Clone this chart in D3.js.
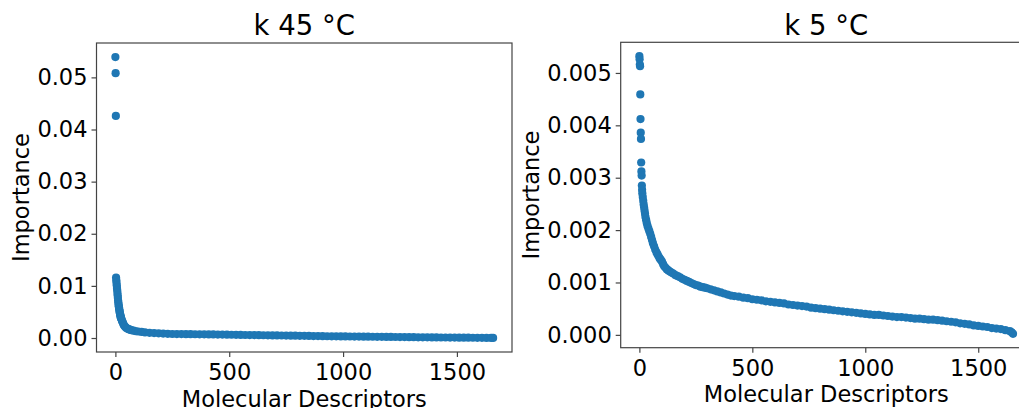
<!DOCTYPE html>
<html>
<head>
<meta charset="utf-8">
<script src="https://cdn.jsdelivr.net/npm/d3@7"></script>
<style>
  html, body { margin: 0; padding: 0; background: #fff; }
  svg { display: block; font-family: "DejaVu Sans", sans-serif; }
</style>
</head>
<body>
<svg id="chart" width="1019" height="408"></svg>
<script>
// Sorted descriptor importances (index in ranking, importance value)
const titles = ["k 45 \u00B0C", "k 5 \u00B0C"];
const xLabel = "Molecular Descriptors";
const yLabel = "Importance";
const xTicks = [0, 500, 1000, 1500];
const yTicks45 = [0.00, 0.01, 0.02, 0.03, 0.04, 0.05];
const yTicks5 = [0.000, 0.001, 0.002, 0.003, 0.004, 0.005];

const rank45 = [
  0, 1, 2, 3, 4, 5, 6, 7, 8, 9, 10, 11, 12, 13, 14, 15, 16, 17, 18, 19, 20, 21, 22, 23, 24, 25,
  27, 29, 31, 34, 37, 40, 44, 48, 53, 58, 64, 70, 80, 90, 100, 115, 130, 150, 170, 190, 210, 230,
  250, 270, 290, 310, 330, 350, 370, 390, 410, 430, 450, 470, 490, 510, 530, 550, 570, 590,
  610, 630, 650, 670, 690, 710, 730, 750, 770, 790, 810, 830, 850, 870, 890, 910, 930, 950, 970, 990,
  1010, 1030, 1050, 1070, 1090, 1110, 1130, 1150, 1170, 1190, 1210, 1230, 1250, 1270, 1290,
  1310, 1330, 1350, 1370, 1390, 1410, 1430, 1450, 1470, 1490, 1510, 1530, 1550, 1570, 1590,
  1610, 1630, 1650, 1659
];
const importance45 = [
  0.0539, 0.0508, 0.0426, 0.0116, 0.0111, 0.0106, 0.0101, 0.0096, 0.0092, 0.0087, 0.0082, 0.0077,
  0.0072, 0.0068, 0.0064, 0.0061, 0.0058, 0.0055, 0.0052, 0.0050, 0.0047, 0.0045, 0.0043, 0.0041,
  0.0039, 0.0038,
  0.0036, 0.0033, 0.0031, 0.0028, 0.0025, 0.0023, 0.0021, 0.0019, 0.0018, 0.0017, 0.0016, 0.0015,
  0.0014, 0.0013, 0.00125, 0.00116, 0.00108, 0.00100, 0.00094, 0.00089, 0.00085, 0.00081,
  0.00077, 0.00076, 0.00075, 0.00074, 0.00073, 0.00072, 0.00071, 0.00070, 0.00069, 0.00068,
  0.00066, 0.00065, 0.00064, 0.00062, 0.00061, 0.00060, 0.00058, 0.00057,
  0.00056, 0.00054, 0.00053, 0.00052, 0.00050, 0.00049, 0.00048, 0.00046, 0.00045, 0.00044,
  0.00042, 0.00041, 0.00040, 0.00038, 0.00037, 0.00036, 0.00034, 0.00033, 0.00032, 0.00031,
  0.00030, 0.00029, 0.00028, 0.00027, 0.00026, 0.00025, 0.00024, 0.00023, 0.00022, 0.00021,
  0.00020, 0.00019, 0.00018, 0.00017, 0.00016,
  0.00015, 0.00014, 0.00013, 0.00013, 0.00012, 0.00011, 0.00010, 0.00010, 0.00009, 0.00008,
  0.00007, 0.00007, 0.00006, 0.00005, 0.00004,
  0.00003, 0.00002, 0.00001, 0.00001
];

const rank5 = [
  0, 1, 2, 3, 4, 5, 6, 7, 8, 9, 10, 11, 12,
  13, 15, 17, 19, 21, 23, 25, 27, 30, 33, 36, 40, 44, 48, 52, 56, 60, 65, 70, 75, 80, 85, 90, 95,
  100, 105, 110, 116, 122, 128, 135, 142, 150, 160, 170, 180, 190, 200, 210, 220, 230, 240, 250,
  260, 270, 280, 290, 300, 315, 330, 345, 360, 375, 390, 405,
  420, 440, 460, 480, 500, 520, 540, 560, 580, 600, 620, 640, 660, 680, 700, 720, 740, 760, 780,
  800, 820, 840, 860, 880, 900, 920, 940, 960, 980, 1000, 1020, 1040, 1060, 1080, 1100, 1120,
  1140, 1160, 1180, 1200, 1220, 1240, 1260, 1280, 1300, 1320, 1340, 1360, 1380, 1400, 1420,
  1440, 1460, 1480, 1500, 1520, 1540, 1560, 1580, 1600, 1620, 1640, 1648, 1654
];
const importance5 = [
  0.00532, 0.00526, 0.00516, 0.00513, 0.00459, 0.00412, 0.00386, 0.00374, 0.00329, 0.00312,
  0.00304, 0.00285, 0.00277,
  0.00270, 0.00263, 0.00256, 0.00249, 0.00243, 0.00237, 0.00231, 0.00225, 0.00219, 0.00213,
  0.00208, 0.00203, 0.00198, 0.00193, 0.00187, 0.00181, 0.00175, 0.00169, 0.00163, 0.00158,
  0.00154, 0.00150, 0.00146, 0.00143,
  0.00140, 0.00135, 0.00131, 0.00128, 0.00125, 0.00123, 0.00121, 0.00119, 0.00117, 0.00114,
  0.00112, 0.00110, 0.00107, 0.00105, 0.00103, 0.00101, 0.00099, 0.00097, 0.00095,
  0.00094, 0.00092, 0.00091, 0.00090, 0.00089, 0.00087, 0.00085, 0.00083, 0.00081, 0.00079,
  0.00077, 0.00075,
  0.00074, 0.00073, 0.00071, 0.00070, 0.00068, 0.00067, 0.00066, 0.00064, 0.00063, 0.00062,
  0.00061, 0.00060, 0.00058, 0.00057, 0.00056, 0.00055, 0.00054, 0.00052, 0.00051,
  0.00050, 0.00049, 0.00048, 0.00047, 0.00046, 0.00045, 0.00044, 0.00043, 0.00042, 0.00041,
  0.00040, 0.00039, 0.00038, 0.00038, 0.00037, 0.00036, 0.00035,
  0.00034, 0.00034, 0.00033, 0.00032, 0.00031, 0.00031, 0.00030, 0.00029, 0.00029, 0.00028,
  0.00027, 0.00026, 0.00025, 0.00024, 0.00022,
  0.00021, 0.00020, 0.00018, 0.00017, 0.00016, 0.00015, 0.00013, 0.00012, 0.00011, 0.00009,
  0.00007, 0.00005, 0.00002
];

const color = "#1f77b4";
const spineColor = "#444";
const tickFont = 22.5;
const labelFont = 22.5;
const titleFont = 27.5;

const svg = d3.select("#chart");

const panels = [
  { title: titles[0], rank: rank45, value: importance45, yTicks: yTicks45, fmt: d3.format(".2f"),
    left: 96.5, top: 43, width: 415.5, height: 309, yLabelX: 29 },
  { title: titles[1], rank: rank5, value: importance5, yTicks: yTicks5, fmt: d3.format(".3f"),
    left: 620.7, top: 42.3, width: 411, height: 305.4, yLabelX: 539 }
];

// Autoscale like a default scatter: data extent padded by 5% on each side
function padded(ext) {
  const pad = (ext[1] - ext[0]) * 0.05;
  return [ext[0] - pad, ext[1] + pad];
}

panels.forEach(p => {
  const pts = p.rank.map((r, i) => ({ r, v: p.value[i] }));
  const x = d3.scaleLinear().domain(padded(d3.extent(p.rank))).range([p.left, p.left + p.width]);
  const y = d3.scaleLinear().domain(padded(d3.extent(p.value))).range([p.top + p.height, p.top]);

  const g = svg.append("g");
  const clipId = "clip" + Math.round(p.left);
  g.append("clipPath").attr("id", clipId)
    .append("rect").attr("x", p.left).attr("y", p.top).attr("width", p.width).attr("height", p.height);

  // points
  g.append("g").attr("clip-path", `url(#${clipId})`)
    .selectAll("circle").data(pts).join("circle")
    .attr("cx", d => x(d.r))
    .attr("cy", d => y(d.v))
    .attr("r", 4.1)
    .attr("fill", color);

  // frame
  g.append("rect")
    .attr("x", p.left).attr("y", p.top).attr("width", p.width).attr("height", p.height)
    .attr("fill", "none").attr("stroke", spineColor).attr("stroke-width", 1.2);

  // x axis
  const xa = g.append("g").attr("transform", `translate(0,${p.top + p.height})`)
    .call(d3.axisBottom(x).tickValues(xTicks).tickFormat(d3.format("d")).tickSize(5).tickPadding(7));
  // y axis
  const ya = g.append("g").attr("transform", `translate(${p.left},0)`)
    .call(d3.axisLeft(y).tickValues(p.yTicks).tickFormat(p.fmt).tickSize(5).tickPadding(4));

  [xa, ya].forEach(a => {
    a.select(".domain").remove();
    a.selectAll(".tick line").attr("stroke", spineColor).attr("stroke-width", 1.2);
    a.selectAll(".tick text").attr("fill", "#000").style("font-size", tickFont + "px")
      .style("font-family", "'DejaVu Sans', sans-serif");
  });

  const cx = p.left + p.width / 2;
  g.append("text").attr("x", cx).attr("y", 35).attr("text-anchor", "middle")
    .style("font-size", titleFont + "px").attr("fill", "#000").text(p.title);

  g.append("text").attr("x", cx).attr("y", p.top + p.height + 54.5).attr("text-anchor", "middle")
    .style("font-size", labelFont + "px").attr("fill", "#000").text(xLabel);

  g.append("text")
    .attr("transform", `translate(${p.yLabelX},${p.top + p.height / 2}) rotate(-90)`)
    .attr("text-anchor", "middle")
    .style("font-size", labelFont + "px").attr("fill", "#000").text(yLabel);
});
</script>
</body>
</html>
